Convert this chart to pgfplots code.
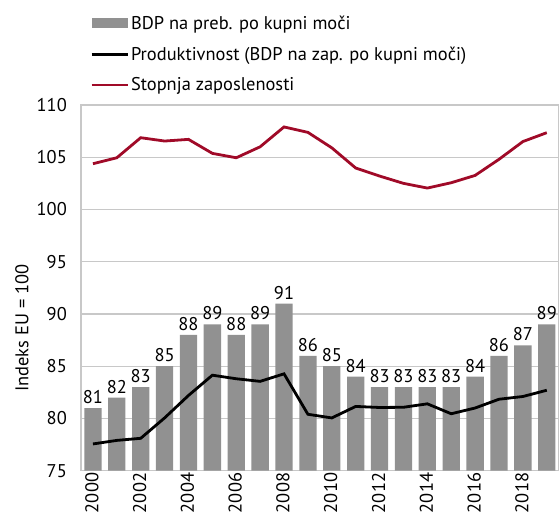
\documentclass[border=0pt]{standalone}
\usepackage{pgfplots}
\pgfplotsset{compat=1.18}
\usepackage{fontspec}
\setmainfont{PT Sans}
\definecolor{bargray}{RGB}{145,145,145}
\definecolor{darkred}{RGB}{160,10,40}
\definecolor{gridgray}{RGB}{200,200,200}
\begin{document}
\begin{tikzpicture}
\useasboundingbox (0,0) rectangle (559bp,519bp);
\begin{axis}[
  at={(81bp,48.3bp)}, anchor=south west,
  scale only axis,
  width=477.7bp, height=365.7bp,
  xmin=-0.5, xmax=19.5,
  ymin=75, ymax=110,
  ytick={75,80,...,110},
  xtick={0,2,...,18},
  xticklabels={2000,2002,2004,2006,2008,2010,2012,2014,2016,2018},
  x tick label style={rotate=90, anchor=east, inner sep=2bp, yshift=1bp},
  y tick label style={inner sep=2bp, xshift=-12bp},
  major tick length=0pt,
  ymajorgrids,
  grid style={gridgray, line width=1.2bp},
  axis line style={gridgray, line width=1.5bp},
  font=\fontsize{18.5}{22}\selectfont,
  /pgf/number format/assume math mode=true,
  /pgf/number format/1000 sep={},
  ylabel={Indeks EU = 100},
  ylabel style={at={(axis description cs:-0.1235,0.39)}, anchor=center, inner sep=0pt},
  legend style={at={(axis description cs:0.019,1.25)}, anchor=north west, draw=none, fill=none,
    font=\fontsize{18.5}{22}\selectfont, row sep=12bp, inner sep=0pt,
    /tikz/every even column/.append style={column sep=4bp}},
  legend cell align=left,
]
\addplot[ybar, bar width=17.3bp, fill=bargray, draw=none,
  nodes near coords, every node near coord/.append style={font=\fontsize{18.5}{22}\selectfont, black, inner sep=2bp, yshift=2bp},
  legend image code/.code={\fill[bargray] (0bp,-5bp) rectangle (36bp,5bp);}]
  coordinates {(0,81)(1,82)(2,83)(3,85)(4,88)(5,89)(6,88)(7,89)(8,91)(9,86)(10,85)(11,84)(12,83)(13,83)(14,83)(15,83)(16,84)(17,86)(18,87)(19,89)};
\addlegendentry{BDP na preb. po kupni moči}
\addplot[black, line width=2.8bp, mark=none,
  legend image code/.code={\draw[black, line width=2.8bp] (0bp,0bp) -- (36bp,0bp);}]
  coordinates {(0,77.56)(1,77.9)(2,78.1)(3,80.05)(4,82.2)(5,84.14)(6,83.8)(7,83.55)(8,84.27)(9,80.4)(10,80.05)(11,81.15)(12,81.05)(13,81.07)(14,81.4)(15,80.45)(16,81.0)(17,81.84)(18,82.1)(19,82.7)};
\addlegendentry{Produktivnost (BDP na zap. po kupni moči)}
\addplot[darkred, line width=2.8bp, mark=none,
  legend image code/.code={\draw[darkred, line width=2.8bp] (0bp,0bp) -- (36bp,0bp);}]
  coordinates {(0,104.38)(1,104.95)(2,106.87)(3,106.55)(4,106.71)(5,105.37)(6,104.95)(7,106.0)(8,107.9)(9,107.38)(10,105.9)(11,103.97)(12,103.2)(13,102.5)(14,102.05)(15,102.56)(16,103.26)(17,104.8)(18,106.5)(19,107.35)};
\addlegendentry{Stopnja zaposlenosti}
\end{axis}
\end{tikzpicture}
\end{document}
